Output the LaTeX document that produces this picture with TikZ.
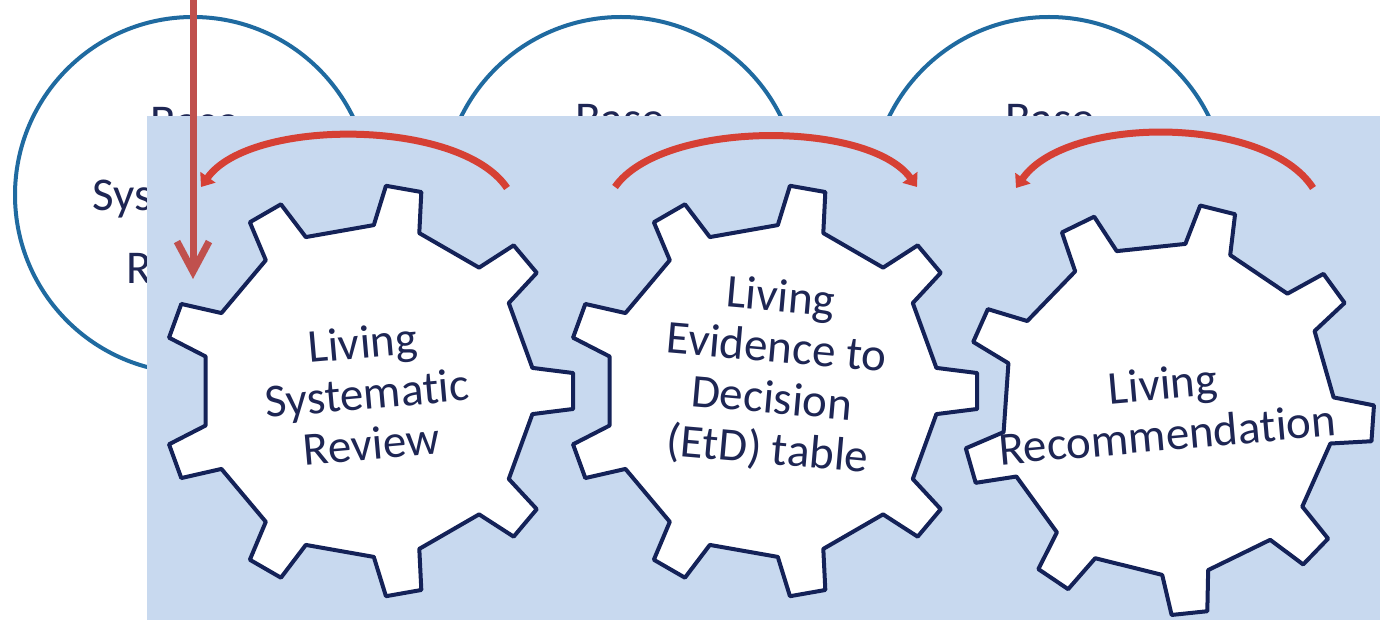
\documentclass[tikz,border=0pt]{standalone}
\usepackage{fontspec}
\setmainfont{Carlito}[Ligatures={NoCommon}]
\usetikzlibrary{arrows.meta}
\definecolor{PanelClr}{RGB}{200,217,239}
\definecolor{RingClr}{RGB}{31,106,160}
\definecolor{GearClr}{RGB}{20,34,88}
\definecolor{TextClr}{RGB}{30,38,84}
\definecolor{ArcClr}{RGB}{214,64,52}
\definecolor{FeedClr}{RGB}{192,80,77}

\tikzset{gearwheel/.pic={
  \path[gearline] (-8:166) -- (-5:206) -- (5:206) -- (8:166)
    \foreach \a in {40,80,...,320}{ -- (\a-8:166) -- (\a-5:206) -- (\a+5:206) -- (\a+8:166)} -- cycle;
}}

\begin{document}
\begin{tikzpicture}[x=0.5pt,y=-0.5pt,
  ring/.style={circle,draw=RingClr,line width=2pt,fill=white,minimum size=178pt,inner sep=0},
  basetxt/.style={align=center,text=TextClr,inner sep=0,font=\fontsize{23.5}{36.5}\selectfont},
  geartxt/.style={align=center,text=TextClr,inner sep=0,font=\fontsize{23.5}{25.5}\selectfont},
  gearline/.style={draw=GearClr,fill=white,line width=2pt,line join=round},
  arc/.style={draw=ArcClr,line width=3.5pt,-{Triangle[width=9pt,length=6pt]}},
  feed/.style={draw=FeedClr,line width=3.5pt,-{Straight Barb[length=15pt,width=16pt]}}]
\useasboundingbox (0,0) rectangle (1380,620);
\fill[white] (0,0) rectangle (1380,620);

\node[ring] (base1) at (193,195) {};
\node[ring] (base2) at (621,195) {};
\node[ring] (base3) at (1049,195) {};
\node[basetxt,anchor=north] (base1txt) at (195,107) {Base\\Systematic\\Review};
\node[basetxt,anchor=north] (base2txt) at (620,104) {Base};
\node[basetxt,anchor=north] (base3txt) at (1050,104) {Base};

\fill[PanelClr] (147,116) rectangle (1380,620);

\pic (gear1) at (368,391) {gearwheel};
\pic (gear2) at (772,391) {gearwheel};
\pic[rotate=-4] (gear3) at (1168,409) {gearwheel};

\node[geartxt,rotate=5] (lsr) at (367,393) {Living\\Systematic\\Review};
\node[geartxt,rotate=-5] (letd) at (774,375) {Living\\Evidence to\\Decision\\(EtD) table};
\node[geartxt,rotate=5] (lrec) at (1165,409) {Living\\Recommendation};

\coordinate (a1s) at (507,188);
\coordinate (a1e) at (201,187);
\coordinate (a2s) at (615,187);
\coordinate (a2e) at (917,187);
\coordinate (a3s) at (1313,188);
\coordinate (a3e) at (1016,188);
\draw[arc] (a1s) .. controls (460,118) and (250,118) .. (a1e);
\draw[arc] (a2s) .. controls (662,120) and (868,120) .. (a2e);
\draw[arc] (a3s) .. controls (1266,115) and (1067,115) .. (a3e);

\coordinate (feedtop) at (193,0);
\coordinate (feedtip) at (193,279);
\draw[feed] (feedtop) -- (feedtip);
\end{tikzpicture}
\end{document}
